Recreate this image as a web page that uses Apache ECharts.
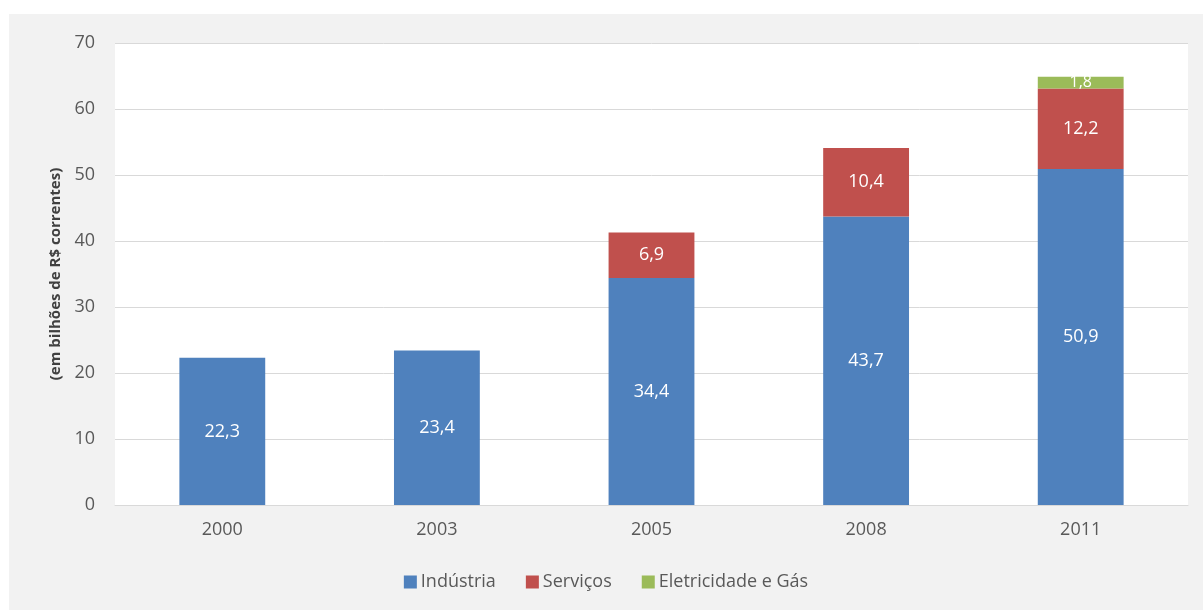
<!DOCTYPE html>
<html>
<head>
<meta charset="utf-8">
<script src="https://cdn.jsdelivr.net/npm/echarts@6/dist/echarts.min.js"></script>
<style>
  html, body { margin: 0; padding: 0; background: #ffffff; }
  #chart { position: absolute; left: 9px; top: 14px; width: 1194px; height: 596px; }
</style>
</head>
<body>
<div id="chart"></div>
<script>
// Anos e valores (em bilhões de R$ correntes)
const categories = ['2000', '2003', '2005', '2008', '2011'];
const industria = [22.3, 23.4, 34.4, 43.7, 50.9];
const servicos = [null, null, 6.9, 10.4, 12.2];
const eletricidade = [null, null, null, null, 1.8];
const yTicks = [0, 10, 20, 30, 40, 50, 60, 70];

const FONT = '"Open Sans", "Noto Sans", sans-serif';
const fmt = p => (p.value == null ? '' : String(p.value).replace('.', ','));

const label = size => ({
  show: true,
  position: 'inside',
  color: '#ffffff',
  fontFamily: FONT,
  fontSize: size,
  formatter: fmt
});

const chart = echarts.init(document.getElementById('chart'));
chart.setOption({
  backgroundColor: '#f2f2f2',
  animation: false,
  textStyle: { fontFamily: FONT },
  grid: {
    left: 106, right: 15, top: 29, bottom: 105,
    show: true, backgroundColor: '#ffffff', borderWidth: 0
  },
  legend: {
    bottom: 14,
    left: 'center',
    itemWidth: 13,
    itemHeight: 13,
    itemGap: 30,
    icon: 'rect',
    textStyle: { color: '#595959', fontSize: 18, fontFamily: FONT, padding: [0, 0, 0, -1] },
    data: ['Indústria', 'Serviços', 'Eletricidade e Gás']
  },
  xAxis: {
    type: 'category',
    data: categories,
    axisLine: { show: true, lineStyle: { color: '#d9d9d9', width: 1 } },
    axisTick: { show: false },
    axisLabel: { color: '#595959', fontSize: 18, margin: 16, fontFamily: FONT }
  },
  yAxis: {
    type: 'value',
    min: yTicks[0],
    max: yTicks[yTicks.length - 1],
    interval: 10,
    name: '(em bilhões de R$ correntes)',
    nameLocation: 'middle',
    nameGap: 50,
    nameRotate: 90,
    nameTextStyle: { color: '#404040', fontSize: 15, fontWeight: 'bold', fontFamily: FONT },
    axisLine: { show: false },
    axisTick: { show: false },
    splitLine: { lineStyle: { color: '#d9d9d9', width: 1 } },
    axisLabel: { color: '#595959', fontSize: 18, margin: 20, fontFamily: FONT }
  },
  series: [
    {
      name: 'Indústria', type: 'bar', stack: 'total', data: industria,
      barWidth: '40%',
      itemStyle: { color: '#4f81bd' },
      label: label(18)
    },
    {
      name: 'Serviços', type: 'bar', stack: 'total', data: servicos,
      itemStyle: { color: '#c0504d' },
      label: label(18)
    },
    {
      name: 'Eletricidade e Gás', type: 'bar', stack: 'total', data: eletricidade,
      itemStyle: { color: '#9bbb59' },
      label: label(16)
    }
  ]
});
</script>
</body>
</html>
